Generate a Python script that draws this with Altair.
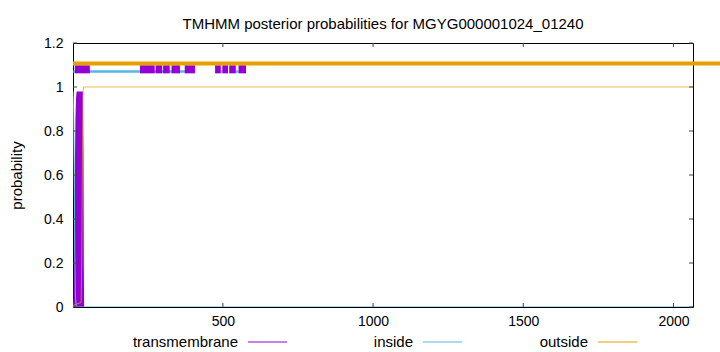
import altair as alt
import pandas as pd

TITLE = "TMHMM posterior probabilities for MGYG000001024_01240"
SEQ_LEN = 2065
FONT = "Liberation Sans"

PURPLE = "#9400D3"
BLUE = "#56B4E9"
ORANGE = "#E69F00"

# posterior probability curves
tm_pos = [1, 3, 5, 7, 9, 11, 13, 20, 28, 34, 36, 37, 38, 2065]
tm_prob = [0.0, 0.05, 0.3, 0.6, 0.85, 0.95, 0.98, 0.98, 0.98, 0.98, 0.7, 0.2, 0.0, 0.0]

in_pos = [1, 3, 5, 7, 9, 12, 2065]
in_prob = [0.98, 0.9, 0.6, 0.25, 0.05, 0.0, 0.0]

out_pos = [1, 5, 28, 30, 32, 34, 36, 2065]
out_prob = [0.0, 0.01, 0.02, 0.2, 0.6, 0.95, 1.0, 1.0]

# predicted topology segments drawn above the curves
tm_seg_start = [7, 224, 276, 301, 329, 373, 474, 498, 521, 552]
tm_seg_end = [57, 273, 298, 323, 357, 407, 493, 517, 543, 577]
in_seg_start = [2, 493, 543]
in_seg_end = [385, 498, 552]
out_seg_start = [1]
out_seg_end = [2157]

x_ticks = [500, 1000, 1500, 2000]
y_ticks = [0, 0.2, 0.4, 0.6, 0.8, 1.0, 1.2]

legend_labels = ["transmembrane", "inside", "outside"]
legend_colors = [PURPLE, BLUE, ORANGE]

W, H = 620, 264
xs = alt.Scale(domain=[1, SEQ_LEN], nice=False, zero=False)
ys = alt.Scale(domain=[0, 1.2], nice=False)

XAX = alt.Axis(values=x_ticks, format="d", ticks=False, domain=False,
               grid=False, labelPadding=7, title=None)
YAX = alt.Axis(values=y_ticks, format=".1~f", ticks=False, domain=False,
               grid=False, labelPadding=10, title="probability",
               titleX=-57, titleY=H / 2, titleAlign="center",
               titleBaseline="middle", titleAngle=270)


def X(f):
    return alt.X(f, scale=xs, axis=XAX, title=None)


def Y(f):
    return alt.Y(f, scale=ys, axis=YAX, title="probability")


tm_df = pd.DataFrame({"pos": tm_pos, "p": tm_prob})
in_df = pd.DataFrame({"pos": in_pos, "p": in_prob})
out_df = pd.DataFrame({"pos": out_pos, "p": out_prob})

tm_area = alt.Chart(tm_df).mark_area(color=PURPLE, clip=True).encode(x=X("pos:Q"), y=Y("p:Q"))
in_line = alt.Chart(in_df).mark_line(color=BLUE, strokeWidth=1, clip=True).encode(x=X("pos:Q"), y=Y("p:Q"))
out_line = alt.Chart(out_df).mark_line(color=ORANGE, strokeWidth=1, opacity=0.7, clip=True).encode(
    x=X("pos:Q"), y=Y("p:Q"))

in_seg = alt.Chart(pd.DataFrame({"pos": in_seg_start, "e": in_seg_end, "p": [1.07] * len(in_seg_start)})).mark_rule(
    color=BLUE, strokeWidth=2.5).encode(x=X("pos:Q"), x2="e:Q", y=Y("p:Q"))
tm_seg = alt.Chart(pd.DataFrame({"pos": tm_seg_start, "e": tm_seg_end,
                                 "p": [1.062] * len(tm_seg_start), "hi": [1.099] * len(tm_seg_start)})).mark_rect(
    color=PURPLE).encode(x=X("pos:Q"), x2="e:Q", y=Y("p:Q"), y2="hi:Q")
out_seg = alt.Chart(pd.DataFrame({"pos": out_seg_start, "e": out_seg_end, "p": [1.107] * len(out_seg_start)})).mark_rule(
    color=ORANGE, strokeWidth=4, clip=False).encode(x=X("pos:Q"), x2="e:Q", y=Y("p:Q"))

# inward, mirrored ticks (gnuplot style)
ytick_df = pd.DataFrame({"p": y_ticks})
xtick_df = pd.DataFrame({"pos": x_ticks})
TK = 4
tick_layers = []
for a, b in [(0, TK), (W - TK, W)]:
    tick_layers.append(alt.Chart(ytick_df).mark_rule(color="#444", strokeWidth=1).encode(
        y=Y("p:Q"), x=alt.value(a), x2=alt.value(b)))
for a, b in [(H, H - TK), (0, TK)]:
    tick_layers.append(alt.Chart(xtick_df).mark_rule(color="#444", strokeWidth=1).encode(
        x=X("pos:Q"), y=alt.value(a), y2=alt.value(b)))

# gnuplot-style key below the plot: label then line sample
legend_layers = []
text_right = [165, 340, 515]
ly = 299
for lab, col, tx in zip(legend_labels, legend_colors, text_right):
    d = pd.DataFrame({"t": [lab]})
    legend_layers.append(alt.Chart(d).mark_text(align="right", baseline="middle", font=FONT,
                                                fontSize=15, color="black").encode(
        text="t:N", x=alt.value(tx), y=alt.value(ly)))
    legend_layers.append(alt.Chart(d).mark_rule(color=col, strokeWidth=1).encode(
        x=alt.value(tx + 10), x2=alt.value(tx + 49), y=alt.value(ly)))

chart = alt.layer(
    tm_area, in_line, out_line, in_seg, tm_seg, out_seg, *tick_layers, *legend_layers
).properties(
    width=W, height=H,
    title=alt.TitleParams(TITLE, anchor="middle", font=FONT, fontSize=15,
                          fontWeight="normal", color="black", offset=7, dy=3),
    autosize=alt.AutoSizeParams(type="none"),
    padding={"left": 73, "top": 43, "right": 27, "bottom": 45},
    background="white",
).configure_view(
    stroke="black", strokeWidth=1
).configure_axis(
    labelFont=FONT, labelFontSize=14, labelColor="black",
    titleFont=FONT, titleFontSize=15, titleColor="black", titleFontWeight="normal"
)

chart.save("out.html", embed_options={"renderer": "svg", "actions": False})
